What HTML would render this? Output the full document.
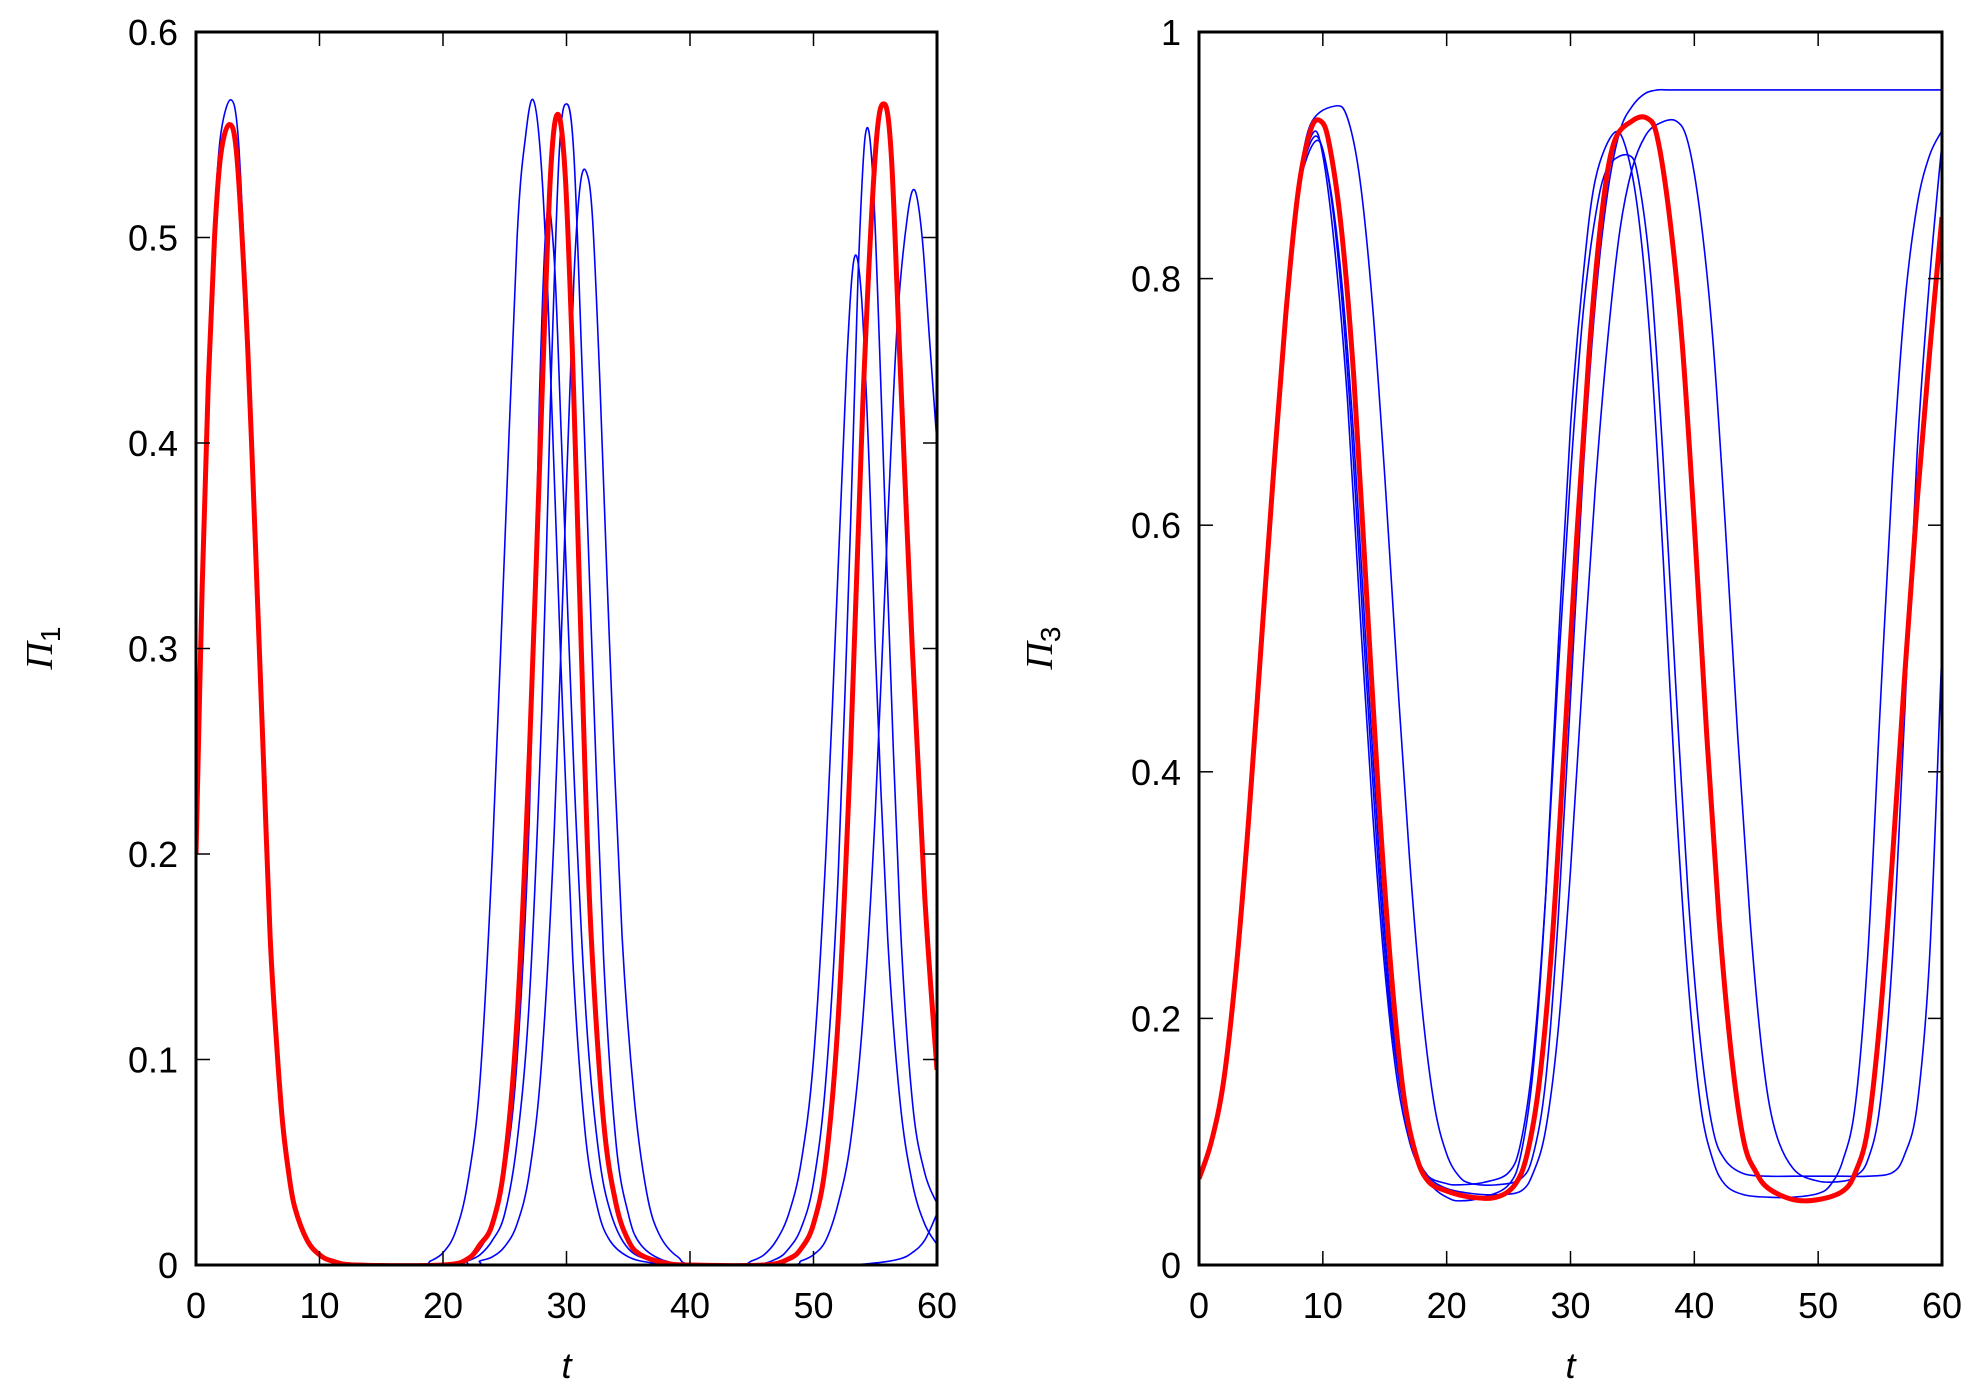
<!DOCTYPE html>
<html><head><meta charset="utf-8">
<style>
html,body{margin:0;padding:0;background:#fff;}
svg{display:block;font-family:"Liberation Sans",sans-serif;}
</style></head>
<body>
<svg id="chart" width="1983" height="1398" viewBox="0 0 1983 1398" xmlns="http://www.w3.org/2000/svg">
<rect width="1983" height="1398" fill="#fff"/>
<g id="left"></g>
<g id="right"></g>
</svg>
<script>
// ---- left panel data (Pi_1 vs t) ----
const leftXTicks = [0,10,20,30,40,50,60];
const leftYTicks = [0,0.1,0.2,0.3,0.4,0.5,0.6];
const leftYTickLabels = ["0","0.1","0.2","0.3","0.4","0.5","0.6"];
const leftRedT = [0,0.5,1,1.5,2,2.7,3.3,4,4.5,5,5.5,6,6.5,7,7.5,8,9,10,11,13,20,22,23,24,25,26,27,28,28.7,29.3,29.9,30.5,31,31.5,32,33,34,35,36,38,40,46,48,49,50,51,52,53,54,55,55.7,56.3,57,58,59,60];
const leftRedV = [0.2,0.33,0.43,0.5,0.54,0.555,0.54,0.47,0.4,0.32,0.24,0.16,0.11,0.07,0.045,0.028,0.012,0.005,0.002,0,0,0.003,0.01,0.02,0.05,0.12,0.25,0.42,0.53,0.56,0.53,0.44,0.34,0.24,0.16,0.07,0.03,0.012,0.005,0.001,0,0,0.003,0.008,0.02,0.05,0.12,0.25,0.42,0.54,0.565,0.54,0.44,0.3,0.18,0.095];
const leftBlueAT = [0,0.5,1,1.5,2,2.8,3.4,4,4.5,5,5.5,6,6.5,7,8,9,10,12,18,19,20,21,22,23,24,25,26,26.7,27.3,27.9,28.5,29.5,30.5,31.5,32.5,33.5,35,37,40,44,45,46,47,48,49,50,51,52,52.7,53.3,53.9,54.5,55,56,57,58,59,60];
const leftBlueAV = [0.2,0.34,0.44,0.51,0.55,0.567,0.55,0.48,0.41,0.33,0.25,0.17,0.115,0.075,0.03,0.013,0.005,0.001,0,0.002,0.006,0.016,0.04,0.09,0.2,0.35,0.5,0.55,0.567,0.54,0.47,0.3,0.15,0.065,0.028,0.012,0.004,0.001,0,0,0.002,0.005,0.012,0.025,0.05,0.1,0.2,0.34,0.44,0.49,0.47,0.39,0.3,0.16,0.08,0.04,0.02,0.01];
const leftBlueBT = [0,0.5,1,1.5,2,2.7,3.3,4,4.5,5,5.5,6,6.5,7,8,9,10,12,20,22,23,24,25,26,27,27.8,28.4,29,29.6,30.6,31.6,32.6,33.6,35,37,40,45,47,48,49,50,51,52,53,53.6,54.2,54.8,55.5,56,57,58,59,60];
const leftBlueBV = [0.2,0.33,0.43,0.5,0.54,0.555,0.54,0.47,0.4,0.32,0.24,0.16,0.11,0.07,0.028,0.012,0.005,0.001,0,0.003,0.008,0.02,0.045,0.1,0.22,0.42,0.51,0.49,0.4,0.24,0.12,0.055,0.025,0.008,0.002,0,0,0.003,0.008,0.018,0.04,0.09,0.19,0.36,0.48,0.55,0.53,0.42,0.33,0.17,0.08,0.045,0.03];
const leftBlueCT = [0,0.5,1,1.5,2,2.7,3.3,4,4.5,5,5.5,6,6.5,7,8,9,10,12,21,22,23,24,25,26,27,28,28.7,29.4,30,30.6,31.3,32,33,34,35,36,38,41,48,49,50,51,52,53,54,55,56,56.8,57.6,58.2,58.8,59.4,60];
const leftBlueCV = [0.2,0.33,0.43,0.5,0.54,0.555,0.54,0.47,0.4,0.32,0.24,0.16,0.11,0.07,0.028,0.012,0.005,0.001,0,0.002,0.005,0.012,0.025,0.06,0.13,0.27,0.42,0.54,0.565,0.54,0.43,0.31,0.15,0.06,0.025,0.01,0.002,0,0,0.002,0.005,0.012,0.03,0.06,0.12,0.22,0.36,0.46,0.51,0.523,0.5,0.45,0.4];
const leftBlueDT = [0,0.5,1,1.5,2,2.7,3.3,4,4.5,5,5.5,6,6.5,7,8,9,10,12,22,23,24,25,26,27,28,29,30,30.6,31.1,31.6,32.1,32.7,33.5,34.5,35.5,36.5,37.5,39,41,52,55,57,58,59,60];
const leftBlueDV = [0.2,0.33,0.43,0.5,0.54,0.555,0.54,0.47,0.4,0.32,0.24,0.16,0.11,0.07,0.028,0.012,0.005,0.001,0,0.002,0.004,0.009,0.02,0.045,0.1,0.21,0.38,0.48,0.525,0.532,0.51,0.43,0.3,0.16,0.08,0.035,0.015,0.004,0,0,0.001,0.003,0.006,0.012,0.025];

// ---- right panel data (Pi_3 vs t) ----
const rightXTicks = [0,10,20,30,40,50,60];
const rightYTicks = [0,0.2,0.4,0.6,0.8,1];
const rightYTickLabels = ["0","0.2","0.4","0.6","0.8","1"];
const rightRedT = [0,1,2,3,4,5,6,7,8,9,9.8,10.5,11.5,12.5,13.5,14.5,15.5,16.5,17.5,18.5,20,22,24,25.5,26.5,27.5,28.5,29.5,30.5,31.5,32.5,33.5,35,36.2,37,38,39,40,41,42,43,44,45,46,48,50,52,53,54,55,56,57,58,59,60];
const rightRedV = [0.07,0.1,0.15,0.24,0.36,0.5,0.64,0.77,0.87,0.92,0.928,0.91,0.84,0.72,0.55,0.38,0.24,0.14,0.09,0.068,0.06,0.055,0.055,0.065,0.09,0.15,0.26,0.42,0.59,0.74,0.85,0.91,0.928,0.93,0.915,0.85,0.75,0.6,0.43,0.28,0.17,0.1,0.075,0.062,0.053,0.053,0.06,0.075,0.11,0.2,0.33,0.48,0.62,0.74,0.85];
const rightBlue1T = [0,1,2,3,4,5,6,7,8,9.2,10,11,12,13,14,15,16,17,18,19,20,21,23,25,26,27,28,29,30,31,32,33.5,34.5,35.5,36.5,37.5,38.5,39.5,40.5,41.5,42.5,44,46,48,50,51,52,53,54,55,56,57,58,59,60];
const rightBlue1V = [0.07,0.1,0.15,0.24,0.36,0.5,0.64,0.77,0.87,0.918,0.9,0.82,0.7,0.53,0.37,0.24,0.15,0.1,0.075,0.062,0.055,0.052,0.055,0.065,0.09,0.16,0.3,0.5,0.68,0.8,0.88,0.918,0.905,0.85,0.74,0.57,0.38,0.23,0.13,0.085,0.065,0.057,0.055,0.055,0.058,0.065,0.085,0.13,0.25,0.45,0.64,0.78,0.86,0.9,0.92];
const rightBlue2T = [0,1,2,3,4,5,6,7,8,9.5,10.5,11.5,12.5,13.5,14.5,15.5,16.5,17.5,18.5,20,21,23,25,26,27,28,29,30,31,32,33,34.7,35.5,36.5,37.5,38.5,39.5,40.5,41.5,42.5,44,46,48,50,52,54,56,57,58,59,60];
const rightBlue2V = [0.07,0.1,0.15,0.24,0.36,0.5,0.64,0.77,0.87,0.912,0.88,0.8,0.67,0.5,0.34,0.21,0.13,0.09,0.072,0.066,0.065,0.067,0.075,0.1,0.17,0.3,0.48,0.64,0.77,0.85,0.89,0.9,0.88,0.8,0.65,0.47,0.3,0.18,0.11,0.085,0.074,0.072,0.072,0.072,0.072,0.072,0.075,0.09,0.13,0.25,0.5];
const rightBlue3T = [0,1,2,3,4,5,6,7,8,9,11,12,13,14,15,16,17,18,19,20,21,22,24,26,27,28,29,30,31,32,33,34,35,36,37,38,40,45,50,55,60];
const rightBlue3V = [0.07,0.1,0.15,0.24,0.36,0.5,0.64,0.77,0.87,0.925,0.94,0.93,0.88,0.78,0.64,0.48,0.33,0.21,0.13,0.09,0.072,0.066,0.065,0.07,0.09,0.15,0.28,0.46,0.64,0.78,0.87,0.92,0.94,0.95,0.953,0.953,0.953,0.953,0.953,0.953,0.953];
const rightBlue4T = [0,1,2,3,4,5,6,7,8,9.3,10.3,11.3,12.3,13.3,14.3,15.3,16.3,17.3,18.5,20,22,24,26,27,28,29,30,31,32,33,34,35,36,37,38.5,39.5,40.5,41.5,42.5,43.5,44.5,45.5,46.5,48,50,52,53,54,55,56,57,58,59,60];
const rightBlue4V = [0.07,0.1,0.15,0.24,0.36,0.5,0.64,0.77,0.87,0.915,0.89,0.81,0.68,0.51,0.35,0.22,0.14,0.095,0.072,0.062,0.058,0.057,0.06,0.075,0.11,0.19,0.32,0.48,0.63,0.75,0.84,0.89,0.915,0.925,0.928,0.91,0.85,0.75,0.6,0.43,0.28,0.17,0.11,0.078,0.068,0.068,0.072,0.085,0.13,0.25,0.45,0.66,0.8,0.91];

const NS = "http://www.w3.org/2000/svg";
function mk(tag, attrs, parent){
  const e = document.createElementNS(NS, tag);
  for (const k in attrs) e.setAttribute(k, attrs[k]);
  parent.appendChild(e);
  return e;
}
function smoothPath(pts){
  let d = "M" + pts[0][0].toFixed(2) + "," + pts[0][1].toFixed(2);
  for (let i = 0; i < pts.length - 1; i++){
    const p0 = pts[Math.max(0,i-1)], p1 = pts[i], p2 = pts[i+1], p3 = pts[Math.min(pts.length-1,i+2)];
    const c1x = p1[0] + (p2[0]-p0[0])/6, c1y = p1[1] + (p2[1]-p0[1])/6;
    const c2x = p2[0] - (p3[0]-p1[0])/6, c2y = p2[1] - (p3[1]-p1[1])/6;
    d += " C" + c1x.toFixed(2)+","+c1y.toFixed(2)+" "+c2x.toFixed(2)+","+c2y.toFixed(2)+" "+p2[0].toFixed(2)+","+p2[1].toFixed(2);
  }
  return d;
}
function drawPanel(g, opt){
  const L = opt.left, R = opt.right, T = 32, B = 1265;
  const xs = t => L + (t - 0) / 60 * (R - L);
  const ys = v => B - v / opt.ymax * (B - T);
  const cid = "clip-" + opt.id;
  const defs = mk("defs", {}, g);
  const cp = mk("clipPath", {id: cid}, defs);
  mk("rect", {x: L, y: T, width: R - L, height: B - T}, cp);
  const series = mk("g", {"clip-path": "url(#" + cid + ")"}, g);
  
  
  opt.blues.forEach((s, i) => {
    const pts = s[0].map((t, j) => [xs(t), ys(s[1][j])]);
    const p = mk("path", {d: smoothPath(pts), fill: "none", stroke: "#0000ff", "stroke-width": 1.6}, series);
    
    
  });
  const rpts = opt.red[0].map((t, j) => [xs(t), ys(opt.red[1][j])]);
  const rp = mk("path", {d: smoothPath(rpts), fill: "none", stroke: "#ff0000", "stroke-width": 5}, series);
  
  
  const ticks = mk("g", {stroke: "#000", "stroke-width": 1.5}, g);
  
  
  opt.xticks.forEach(t => {
    mk("line", {x1: xs(t), x2: xs(t), y1: B, y2: B - 14}, ticks);
    mk("line", {x1: xs(t), x2: xs(t), y1: T, y2: T + 14}, ticks);
    const tx = mk("text", {x: xs(t), y: 1318, "font-size": 36, "text-anchor": "middle", fill: "#000"}, g);
    tx.textContent = String(t);
    
    
  });
  opt.yticks.forEach((v, i) => {
    mk("line", {x1: L, x2: L + 14, y1: ys(v), y2: ys(v)}, ticks);
    mk("line", {x1: R, x2: R - 14, y1: ys(v), y2: ys(v)}, ticks);
    const tx = mk("text", {x: L - 18, y: ys(v) + 13, "font-size": 36, "text-anchor": "end", fill: "#000"}, g);
    tx.textContent = opt.ylabels[i];
    
    
  });
  const fr = mk("rect", {x: L, y: T, width: R - L, height: B - T, fill: "none", stroke: "#000", "stroke-width": 3}, g);
  
  
  const xl = mk("text", {x: (L + R) / 2, y: 1378, "font-size": 36, "font-style": "italic", "text-anchor": "middle", fill: "#000"}, g);
  xl.textContent = "t";
  
  
  const yl = mk("text", {transform: "translate(" + opt.ylx + ",648) rotate(-90)", "font-size": 38, "text-anchor": "middle", fill: "#000", "font-family": "Liberation Serif, serif", "font-style": "italic"}, g);
  
  
  const t1 = mk("tspan", {}, yl); t1.textContent = "Π";
  const t2 = mk("tspan", {dy: 8, "font-size": 28, "font-style": "normal", "font-family": "Liberation Sans, sans-serif"}, yl); t2.textContent = opt.sub;
}
drawPanel(document.getElementById("left"), {id: "left", left: 196, right: 937, ymax: 0.6, xticks: leftXTicks, yticks: leftYTicks, ylabels: leftYTickLabels, ylx: 52, sub: "1",
  red: [leftRedT, leftRedV], blues: [[leftBlueAT, leftBlueAV], [leftBlueBT, leftBlueBV], [leftBlueCT, leftBlueCV], [leftBlueDT, leftBlueDV]]});
drawPanel(document.getElementById("right"), {id: "right", left: 1199, right: 1942, ymax: 1, xticks: rightXTicks, yticks: rightYTicks, ylabels: rightYTickLabels, ylx: 1052, sub: "3",
  red: [rightRedT, rightRedV], blues: [[rightBlue1T, rightBlue1V], [rightBlue2T, rightBlue2V], [rightBlue3T, rightBlue3V], [rightBlue4T, rightBlue4V]]});
</script>
</body></html>
